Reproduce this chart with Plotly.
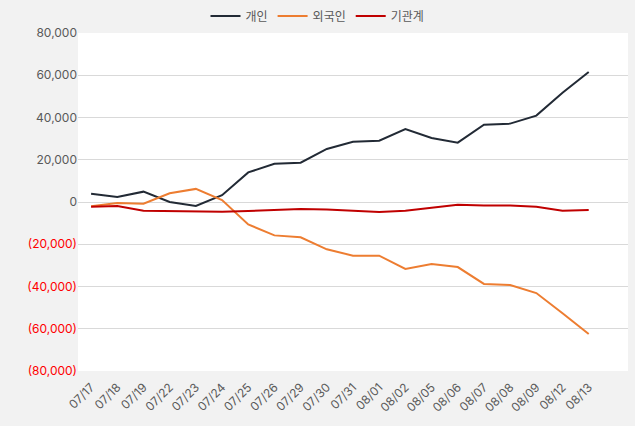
import plotly.graph_objects as go

dates = ["07/17", "07/18", "07/19", "07/22", "07/23", "07/24", "07/25", "07/26", "07/29", "07/30",
         "07/31", "08/01", "08/02", "08/05", "08/06", "08/07", "08/08", "08/09", "08/12", "08/13"]
individual = [3900, 2400, 4900, 0, -1900, 3200, 14000, 18100, 18600, 25100,
              28500, 29000, 34500, 30300, 28100, 36600, 37100, 40900, 51700, 61500]
foreign = [-2000, -500, -800, 4100, 6200, 900, -10600, -15800, -16700, -22400,
           -25400, -25400, -31700, -29300, -30800, -38800, -39300, -43100, -52700, -62500]
institution = [-2200, -1900, -4100, -4300, -4600, -4600, -4300, -3800, -3300, -3600,
               -4100, -4700, -4100, -2700, -1300, -1700, -1700, -2200, -4100, -3800]
series_names = ["개인", "외국인", "기관계"]
y_ticks = [80000, 60000, 40000, 20000, 0, -20000, -40000, -60000, -80000]

colors = ["#222a35", "#ed7d31", "#c00000"]


def fmt(v):
    if v < 0:
        return "<span style='color:#ff0000'>({:,})</span>".format(-v)
    return "{:,}".format(v)


fig = go.Figure()
for name, vals, c in zip(series_names, [individual, foreign, institution], colors):
    fig.add_trace(go.Scatter(x=dates, y=vals, mode="lines", name=name,
                             line=dict(color=c, width=2)))

fig.update_layout(
    width=635, height=426,
    paper_bgcolor="#f2f2f2", plot_bgcolor="#ffffff",
    margin=dict(l=78, r=7, t=33, b=55, autoexpand=False),
    font=dict(family="Inter, 'Noto Sans CJK KR', sans-serif", size=12, color="#595959"),
    legend=dict(orientation="h", xref="container", x=0.5, xanchor="center",
                y=1.05, yanchor="middle",
                font=dict(size=12, color="#595959"), bgcolor="rgba(0,0,0,0)",
                itemwidth=30, tracegroupgap=0),
    showlegend=True,
)
fig.update_xaxes(type="category", range=[-0.5, 20.5], tickangle=-45,
                 showgrid=False, zeroline=False, showline=False,
                 tickfont=dict(size=12, color="#595959"), ticks="",
                 ticklabelstandoff=6)
fig.update_yaxes(range=[-80000, 80000], tickvals=y_ticks,
                 ticktext=[fmt(v) for v in y_ticks],
                 showgrid=True, gridcolor="#d9d9d9", gridwidth=1,
                 zeroline=False, showline=False, ticks="",
                 tickfont=dict(size=12, color="#595959"))

fig.write_html("out.html", config={"displayModeBar": False},
               post_script="document.body.style.margin='0';document.body.style.background='#f2f2f2';")
